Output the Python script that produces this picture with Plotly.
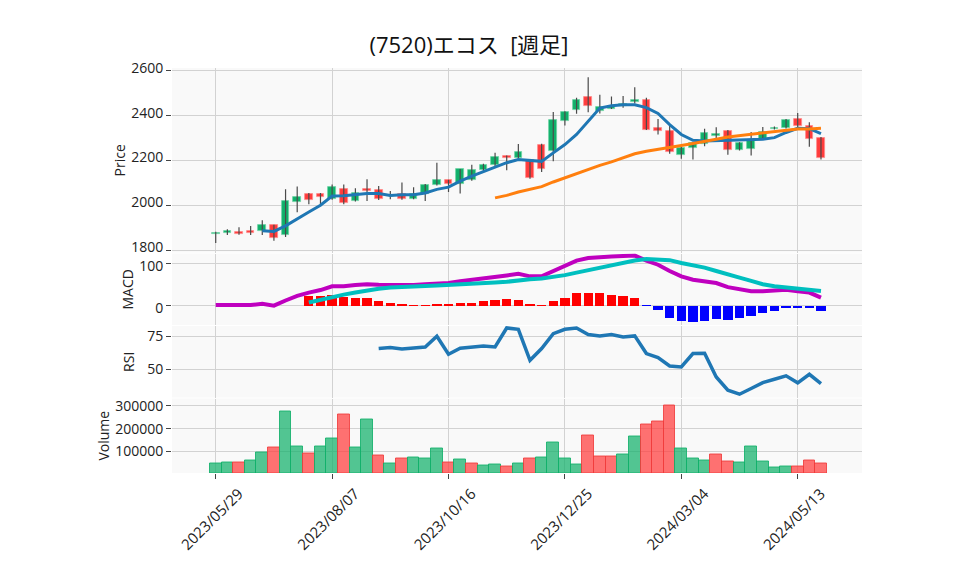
import plotly.graph_objects as go
from plotly.subplots import make_subplots

dates = ['2023-05-29', '2023-06-05', '2023-06-12', '2023-06-19', '2023-06-26', '2023-07-03',
         '2023-07-10', '2023-07-17', '2023-07-24', '2023-07-31', '2023-08-07', '2023-08-14',
         '2023-08-21', '2023-08-28', '2023-09-04', '2023-09-11', '2023-09-18', '2023-09-25',
         '2023-10-02', '2023-10-09', '2023-10-16', '2023-10-23', '2023-10-30', '2023-11-06',
         '2023-11-13', '2023-11-20', '2023-11-27', '2023-12-04', '2023-12-11', '2023-12-18',
         '2023-12-25', '2024-01-01', '2024-01-08', '2024-01-15', '2024-01-22', '2024-01-29',
         '2024-02-05', '2024-02-12', '2024-02-19', '2024-02-26', '2024-03-04', '2024-03-11',
         '2024-03-18', '2024-03-25', '2024-04-01', '2024-04-08', '2024-04-15', '2024-04-22',
         '2024-04-29', '2024-05-06', '2024-05-13', '2024-05-20', '2024-05-27']

opens = [1870, 1877, 1880, 1884, 1886, 1911, 1868, 2015, 2052, 2052, 2028, 2071, 2019, 2071,
         2067, 2040, 2049, 2030, 2049, 2091, 2111, 2096, 2113, 2157, 2179, 2218, 2209, 2204,
         2271, 2243, 2375, 2424, 2484, 2419, 2432, 2444, 2460, 2471, 2347, 2333, 2224, 2256,
         2274, 2308, 2333, 2247, 2252, 2298, 2340, 2345, 2385, 2354, 2301]
highs = [1882, 1893, 1902, 1907, 1933, 1913, 2071, 2084, 2055, 2055, 2093, 2093, 2076, 2116,
         2086, 2064, 2102, 2080, 2095, 2190, 2114, 2162, 2181, 2185, 2234, 2222, 2274, 2206,
         2275, 2416, 2420, 2480, 2572, 2493, 2486, 2488, 2527, 2480, 2385, 2360, 2262, 2283,
         2342, 2348, 2336, 2281, 2327, 2350, 2352, 2385, 2412, 2371, 2305]
lows = [1831, 1867, 1868, 1867, 1867, 1842, 1858, 1969, 2004, 1997, 2025, 2004, 2017, 2019,
        2024, 2027, 2025, 2027, 2019, 2088, 2059, 2052, 2110, 2150, 2175, 2156, 2205, 2118,
        2148, 2197, 2356, 2409, 2415, 2410, 2430, 2436, 2455, 2336, 2316, 2230, 2208, 2204,
        2264, 2300, 2226, 2245, 2222, 2295, 2338, 2343, 2350, 2261, 2204]
closes = [1878, 1884, 1873, 1875, 1911, 1855, 2021, 2036, 2024, 2037, 2083, 2010, 2056, 2064,
          2028, 2047, 2028, 2049, 2089, 2111, 2095, 2160, 2156, 2182, 2216, 2209, 2240, 2121,
          2163, 2382, 2415, 2471, 2442, 2440, 2438, 2452, 2471, 2338, 2331, 2237, 2256, 2276,
          2324, 2320, 2247, 2279, 2292, 2327, 2347, 2382, 2353, 2297, 2210]
volumes = [46000, 51000, 51000, 59000, 95000, 115000, 275000, 121000, 89000, 121000, 155000,
           262000, 117000, 240000, 80000, 46000, 68000, 73000, 68000, 112000, 51000, 64000,
           46000, 37000, 42000, 33000, 46000, 68000, 73000, 139000, 68000, 42000, 170000,
           77000, 77000, 86000, 165000, 218000, 231000, 302000, 112000, 68000, 59000, 86000,
           55000, 51000, 121000, 55000, 29000, 33000, 33000, 59000, 46000]

ma5 = [None, None, None, None, 1886, 1883, 1908, 1941, 1970, 2000, 2041, 2043, 2049, 2053,
       2052, 2044, 2047, 2047, 2055, 2071, 2081, 2108, 2130, 2150, 2172, 2190, 2204, 2200,
       2196, 2234, 2271, 2316, 2375, 2434, 2444, 2449, 2449, 2436, 2410, 2360, 2316, 2290,
       2287, 2288, 2289, 2291, 2292, 2295, 2302, 2325, 2344, 2342, 2320]
ma25 = [None] * 24 + [2033, 2044, 2059, 2071, 2083, 2104, 2123, 2142, 2160, 2178, 2194, 2212,
                      2230, 2241, 2249, 2256, 2267, 2276, 2284, 2295, 2305, 2311, 2317, 2323,
                      2329, 2335, 2341, 2341, 2344]

macd = [0, 0, -0.5, 0, 3, -1.5, 11, 22, 30, 36, 45, 45, 48, 50, 49, 48, 47, 48, 50, 51, 53,
        57, 60, 63, 67, 71, 75, 69, 69, 81, 94, 107, 113, 116, 117, 118, 119, 107, 97, 82, 69,
        61, 57, 53, 43, 37, 33, 33, 34, 37, 33, 30, 18]
signal = [None] * 8 + [6, 13, 19, 25, 30, 35, 39, 42, 44, 45, 46, 47, 48, 49, 50, 52, 54, 56,
                       60, 62, 64, 67, 72, 78, 84, 90, 94, 101, 107, 111, 110, 108, 101, 96,
                       90, 82, 73, 66, 58, 50, 45, 42, 40, 38, 34]
hist = [None] * 8 + [23, 24, 26, 20, 19, 17, 10, 5, 2.5, 0.3, 0.2, 2, 2, 7, 7, 10, 13, 15, 14,
                     4, 0.3, 10, 19, 29, 29, 29, 26, 22, 17, -0.3, -11, -29, -37, -40, -37,
                     -32, -35, -30, -26, -18, -14, -6, -5, -6, -14]
rsi = [None] * 14 + [65.7, 66.4, 65.4, 66.4, 66.9, 75.0, 61.4, 65.9, 66.9, 67.7, 66.9, 81.3,
                     80.3, 56.8, 65.7, 77.0, 80.3, 81.3, 76.3, 75.3, 76.3, 74.5, 75.3, 61.9,
                     58.8, 52.5, 51.8, 61.9, 62.1, 44.2, 34.1, 31.1, 35.4, 39.9, 42.4, 45.0,
                     39.7, 46.2, 39.1]

tick_dates = ['2023-05-29', '2023-08-07', '2023-10-16', '2023-12-25', '2024-03-04', '2024-05-13']
tick_labels = ['2023/05/29', '2023/08/07', '2023/10/16', '2023/12/25', '2024/03/04', '2024/05/13']

title_text = '(7520)エコス  [週足]'

UP = '#10b06a'
DOWN = '#ff3c3c'
UP_EDGE = '#6fd3a4'
DOWN_EDGE = '#ff8a8a'
WEEK = 7 * 24 * 3600 * 1000
GRID = '#d2d2d2'
BG = '#f9f9f9'
FONT = 'Open Sans, Noto Sans CJK JP, sans-serif'

fig = make_subplots(rows=4, cols=1, shared_xaxes=True, vertical_spacing=0.003)

# wicks
wx, wy = [], []
for d, lo, hi in zip(dates, lows, highs):
    wx += [d, d, None]
    wy += [lo, hi, None]
fig.add_trace(go.Scatter(x=wx, y=wy, mode='lines', line=dict(color='#4a4a4a', width=1.2),
                         hoverinfo='skip'), row=1, col=1)

# bodies
body_h = [abs(c - o) for o, c in zip(opens, closes)]
body_b = [min(o, c) for o, c in zip(opens, closes)]
body_col = [UP if c >= o else DOWN for o, c in zip(opens, closes)]
body_edge = [UP_EDGE if c >= o else DOWN_EDGE for o, c in zip(opens, closes)]
fig.add_trace(go.Bar(x=dates, y=body_h, base=body_b, width=WEEK * 0.66,
                     marker=dict(color=body_col, line=dict(color=body_edge, width=0.8))),
              row=1, col=1)

fig.add_trace(go.Scatter(x=dates, y=ma5, mode='lines', line=dict(color='#1f77b4', width=3)),
              row=1, col=1)
fig.add_trace(go.Scatter(x=dates, y=ma25, mode='lines', line=dict(color='#ff7f0e', width=3)),
              row=1, col=1)

# MACD
hist_col = ['red' if (h is not None and h >= 0) else 'blue' for h in hist]
fig.add_trace(go.Bar(x=dates, y=hist, width=WEEK * 0.8, marker=dict(color=hist_col, line=dict(width=0))),
              row=2, col=1)
fig.add_trace(go.Scatter(x=dates, y=macd, mode='lines', line=dict(color='#bf00bf', width=4)),
              row=2, col=1)
fig.add_trace(go.Scatter(x=dates, y=signal, mode='lines', line=dict(color='#00bfbf', width=4)),
              row=2, col=1)

# RSI
fig.add_trace(go.Scatter(x=dates, y=rsi, mode='lines', line=dict(color='#1f77b4', width=3.5)),
              row=3, col=1)

# Volume
vol_up = [True] + [closes[i] >= closes[i - 1] for i in range(1, len(closes))]
vol_fill = ['rgba(16,176,106,0.72)' if u else 'rgba(255,60,60,0.72)' for u in vol_up]
vol_line = ['rgba(16,176,106,0.85)' if u else 'rgba(240,60,60,0.85)' for u in vol_up]
fig.add_trace(go.Bar(x=dates, y=volumes, width=WEEK,
                     marker=dict(color=vol_fill, line=dict(color=vol_line, width=1))),
              row=4, col=1)

# page has an 8px body margin, so the figure's own coordinates are offset by 8px
OFF = 8
TOP, BOT = 68 - OFF, 473 - OFF
def dom(top, bottom):
    top -= OFF
    bottom -= OFF
    return [(BOT - bottom) / (BOT - TOP), (BOT - top) / (BOT - TOP)]

xcommon = dict(range=['2023-05-02 17:00', '2024-06-20 16:00'], tickvals=tick_dates,
               ticktext=tick_labels, showgrid=True, gridcolor=GRID, gridwidth=1,
               zeroline=False, showline=False, automargin=False)
ycommon = dict(showgrid=True, gridcolor=GRID, gridwidth=1, zeroline=False, showline=False,
               ticks='outside', ticklen=5, tickcolor='#444', automargin=False,
               tickfont=dict(size=14, color='#222'), title_font=dict(size=14, color='#222'))

fig.update_layout(
    template='none',
    width=958, height=575,
    margin=dict(l=172 - OFF, r=958 - 862 + OFF, t=TOP, b=575 - BOT),
    paper_bgcolor='white', plot_bgcolor=BG,
    font=dict(family=FONT, color='#222'),
    showlegend=False,
    bargap=0,
    title=dict(text=title_text, x=461 / 958, xanchor='center', y=1 - 37 / 575, yanchor='middle',
               font=dict(size=22, color='#111')),
    xaxis=dict(**xcommon, showticklabels=False, ticks=''),
    xaxis2=dict(**xcommon, showticklabels=False, ticks=''),
    xaxis3=dict(**xcommon, showticklabels=False, ticks=''),
    xaxis4=dict(**xcommon, showticklabels=True, ticks='outside', ticklen=5, tickcolor='#444',
                tickangle=-45, ticklabelshift=23, tickfont=dict(size=15, color='#222')),
    yaxis=dict(**ycommon, domain=dom(68, 252.5), range=[1789, 2613], ticklabelshift=-3,
               tickvals=[1800, 2000, 2200, 2400, 2600], title_text='Price'),
    yaxis2=dict(**ycommon, domain=dom(253.5, 325), range=[-48, 124], ticklabelshift=3,
                tickvals=[0, 100], title_text='MACD'),
    yaxis3=dict(**ycommon, domain=dom(326, 397.5), range=[28.6, 82.8],
                tickvals=[50, 75], title_text='RSI'),
    yaxis4=dict(**ycommon, domain=dom(398.5, 473), range=[4200, 333000],
                tickvals=[100000, 200000, 300000], ticktext=['100000', '200000', '300000'],
                title_text='Volume'),
)

fig.write_html('out.html')
